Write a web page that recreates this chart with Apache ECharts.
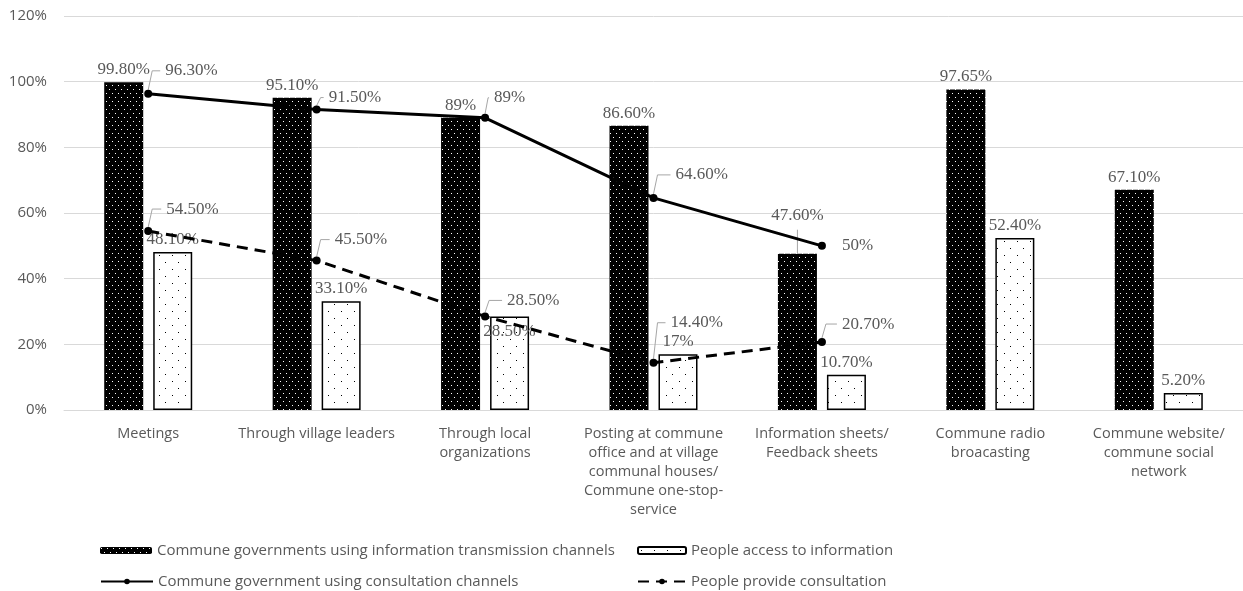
<!DOCTYPE html>
<html>
<head>
<meta charset="utf-8">
<script src="https://cdn.jsdelivr.net/npm/echarts@6/dist/echarts.min.js"></script>
<style>
  html, body { margin: 0; padding: 0; background: #fff; }
  #main { width: 1243px; height: 591px; }
</style>
</head>
<body>
<div id="main"></div>
<script>
const categories = [
  'Meetings',
  'Through village leaders',
  'Through local\norganizations',
  'Posting at commune\noffice and at village\ncommunal houses/\nCommune one-stop-\nservice',
  'Information sheets/\nFeedback sheets',
  'Commune radio\nbroacasting',
  'Commune website/\ncommune social\nnetwork'
]
const govTransmission = [99.8, 95.1, 89, 86.6, 47.6, 97.65, 67.1]
const peopleAccess = [48.1, 33.1, 28.5, 17, 10.7, 52.4, 5.2]
const govConsultation = [96.3, 91.5, 89, 64.6, 50]
const peopleConsult = [54.5, 45.5, 28.5, 14.4, 20.7]
const yTicks = [0, 20, 40, 60, 80, 100, 120]

// label nudges for the line callouts (dx, dy from the 'right' position)
const solidNudge = [[8, -23], [3, -12], [0, -20], [13, -23], [11, 0]]
const dashNudge = [[9, -22], [9, -21], [13, -16], [8, -40], [11, -18]]
// bar labels excel moved by hand
const transLabelShift = { 4: [0, -26] }
const accessLabelShift = { 2: [0, 28] }

const BAR_W = 39
const BAR_GAP = 10

const pct = (v) => (Number.isInteger(v) ? v : v.toFixed(2)) + '%'

function makePattern(w, h, bg, dot, dots) {
  const c = document.createElement('canvas')
  c.width = w
  c.height = h
  const ctx = c.getContext('2d')
  ctx.fillStyle = bg
  ctx.fillRect(0, 0, w, h)
  ctx.fillStyle = dot
  dots.forEach(([x, y]) => ctx.fillRect(x, y, 1, 1))
  return c
}

const blackFill = { image: makePattern(6, 8, '#000', '#fff', [[1, 1], [4, 5]]), repeat: 'repeat' }
const whiteFill = { image: makePattern(13, 14, '#fff', '#000', [[3, 3], [9, 10]]), repeat: 'repeat' }

const grey = '#595959'
const leaderGrey = '#a6a6a6'
const serif = 'Liberation Serif'
const sans = 'Open Sans'

function calloutLayout(nudge) {
  return function (params) {
    const n = nudge[params.dataIndex] || [0, 0]
    return { dx: n[0], dy: n[1] }
  }
}

function legendAt(name, left, top, w) {
  return {
    left: left, top: top,
    itemWidth: w, itemHeight: 7,
    textStyle: { color: grey, fontFamily: sans, fontSize: 15 },
    data: [name]
  }
}

function withShift(values, shifts) {
  return values.map((v, i) => shifts[i] ? { value: v, label: { offset: shifts[i] } } : v)
}

const dataLabel = {
  show: true, distance: 4,
  formatter: (p) => pct(p.value),
  color: grey, fontFamily: serif, fontSize: 17
}

// leader lines: [category index, value, kind] kind 0 = solid line, 1 = dashed line, 2 = black bar
const leaders = []
govConsultation.forEach((v, i) => { if (solidNudge[i][1] !== 0) leaders.push([i, v, 0]) })
peopleConsult.forEach((v, i) => { if (dashNudge[i][1] !== 0) leaders.push([i, v, 1]) })
Object.keys(transLabelShift).forEach((k) => leaders.push([+k, govTransmission[k], 2]))

function renderLeader(params, api) {
  const i = api.value(0)
  const kind = api.value(2)
  const p = api.coord([i, api.value(1)])
  let pts
  if (kind === 2) {
    const x = p[0] - (BAR_W + BAR_GAP) / 2
    const sh = transLabelShift[i]
    pts = [[x, p[1]], [x, p[1] + sh[1] + 2]]
  } else {
    const n = (kind === 0 ? solidNudge : dashNudge)[i]
    const ly = p[1] + n[1]
    const lx = p[0] + 9 + n[0]
    const bendX = Math.min(p[0] + 4, lx - 6)
    pts = [[p[0], p[1] - 4], [bendX, ly], [lx - 5, ly]]
  }
  return {
    type: 'polyline',
    shape: { points: pts },
    style: { stroke: leaderGrey, fill: null, lineWidth: 1 },
    silent: true
  }
}

const option = {
  animation: false,
  backgroundColor: '#fff',
  grid: { left: 64, right: -11, top: 16, bottom: 181 },
  legend: [
    legendAt('Commune governments using information transmission channels', 95, 538, 52),
    legendAt('Commune government using consultation channels', 95, 569, 52),
    legendAt('People access to information', 632, 538, 48),
    legendAt('People provide consultation', 632, 569, 48)
  ],
  xAxis: {
    type: 'category',
    data: categories,
    axisTick: { show: false },
    axisLine: { lineStyle: { color: '#d9d9d9' } },
    axisLabel: {
      interval: 0, color: grey, fontFamily: sans, fontSize: 14.5,
      lineHeight: 19, margin: 14
    }
  },
  yAxis: {
    type: 'value',
    min: yTicks[0],
    max: yTicks[yTicks.length - 1],
    interval: 20,
    axisLine: { show: false },
    axisTick: { show: false },
    splitLine: { lineStyle: { color: '#d9d9d9' } },
    axisLabel: {
      formatter: '{value}%', color: grey, fontFamily: sans, fontSize: 15, margin: 17
    }
  },
  series: [
    {
      name: 'Commune governments using information transmission channels',
      type: 'bar',
      data: withShift(govTransmission, transLabelShift),
      barWidth: BAR_W,
      barGap: (BAR_GAP / BAR_W * 100) + '%',
      itemStyle: { color: blackFill },
      label: Object.assign({ position: 'top' }, dataLabel)
    },
    {
      name: 'People access to information',
      type: 'bar',
      data: withShift(peopleAccess, accessLabelShift),
      barWidth: BAR_W,
      itemStyle: { color: whiteFill, borderColor: '#000', borderWidth: 1.5 },
      label: Object.assign({ position: 'top' }, dataLabel)
    },
    {
      name: 'Commune government using consultation channels',
      type: 'line',
      data: govConsultation,
      z: 5,
      symbol: 'circle',
      symbolSize: 8,
      itemStyle: { color: '#000' },
      lineStyle: { color: '#000', width: 3 },
      label: Object.assign({ position: 'right' }, dataLabel, { distance: 5 }),
      labelLayout: calloutLayout(solidNudge)
    },
    {
      name: 'People provide consultation',
      type: 'line',
      data: peopleConsult,
      z: 5,
      symbol: 'circle',
      symbolSize: 8,
      itemStyle: { color: '#000' },
      lineStyle: { color: '#000', width: 3, type: [11, 7] },
      label: Object.assign({ position: 'right' }, dataLabel, { distance: 5 }),
      labelLayout: calloutLayout(dashNudge)
    },
    {
      name: 'leaders',
      type: 'custom',
      data: leaders,
      z: 4,
      silent: true,
      renderItem: renderLeader
    }
  ]
}

const myChart = echarts.init(document.getElementById('main'))
myChart.setOption(option)
</script>
</body>
</html>
